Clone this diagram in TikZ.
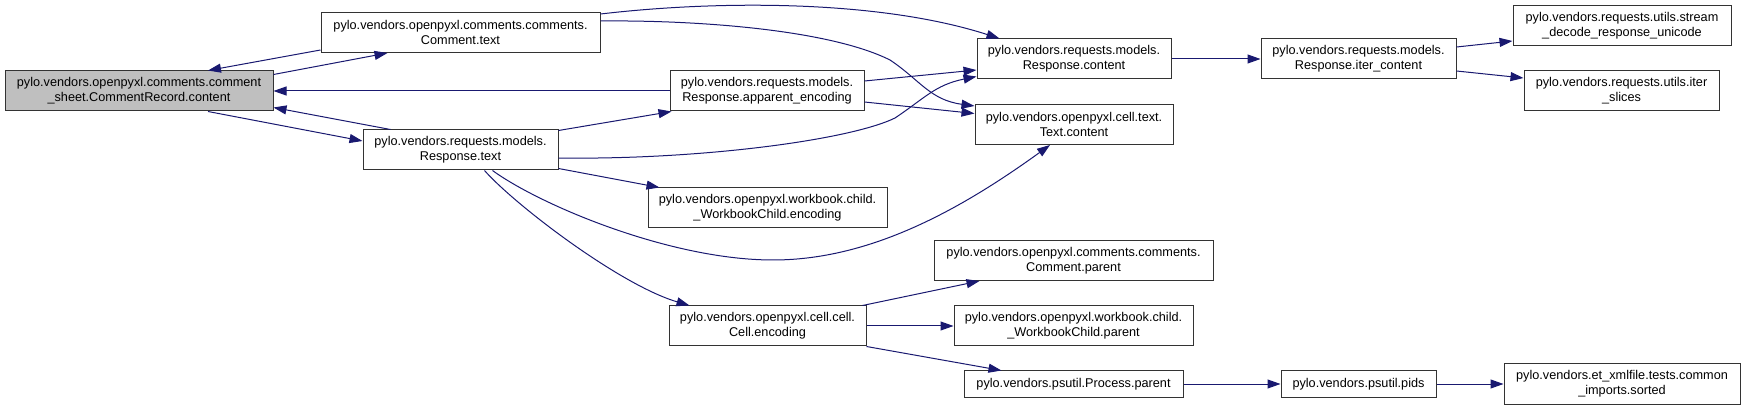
\documentclass[tikz,border=0pt]{standalone}
\usepackage{fontspec}
\setmainfont{Liberation Sans}
\usepackage{tikz}
\usetikzlibrary{arrows.meta}
\definecolor{midnightblue}{HTML}{191970}
\definecolor{grey75}{HTML}{BFBFBF}
\begin{document}
\begin{tikzpicture}[
  x=1pt,y=-1pt,
  box/.style={rectangle,draw=black!80,line width=1pt,fill=white,align=center,
              inner sep=0pt,minimum width=#1pt,minimum height=40pt,
              font=\fontsize{12.7}{15}\selectfont},
  edge/.style={-{Triangle[length=13pt,width=9pt]},draw=midnightblue,line width=1pt}]
\useasboundingbox (0,0) rectangle (1745,411);
\node[box=268,fill=grey75] (root) at (139,91) {pylo.vendors.openpyxl.comments.comment\\\_sheet.CommentRecord.content};
\node[box=279] (cmtText) at (460.5,32.5) {pylo.vendors.openpyxl.comments.comments.\\Comment.text};
\node[box=195] (respText) at (460.5,150) {pylo.vendors.requests.models.\\Response.text};
\node[box=194] (apparent) at (767,91) {pylo.vendors.requests.models.\\Response.apparent\_encoding};
\node[box=239] (wbcEnc) at (767.5,208) {pylo.vendors.openpyxl.workbook.child.\\\_WorkbookChild.encoding};
\node[box=197] (cellEnc) at (767.5,326) {pylo.vendors.openpyxl.cell.cell.\\Cell.encoding};
\node[box=194] (respContent) at (1074,59) {pylo.vendors.requests.models.\\Response.content};
\node[box=198] (textContent) at (1074,124.5) {pylo.vendors.openpyxl.cell.text.\\Text.content};
\node[box=279] (cmtParent) at (1073.5,260.5) {pylo.vendors.openpyxl.comments.comments.\\Comment.parent};
\node[box=239] (wbcParent) at (1073.5,326) {pylo.vendors.openpyxl.workbook.child.\\\_WorkbookChild.parent};
\node[box=219,minimum height=26pt] (procParent) at (1073.5,384) {pylo.vendors.psutil.Process.parent};
\node[box=195] (iterContent) at (1358.5,59) {pylo.vendors.requests.models.\\Response.iter\_content};
\node[box=155,minimum height=26pt] (pids) at (1358.5,384) {pylo.vendors.psutil.pids};
\node[box=218] (stream) at (1622,26) {pylo.vendors.requests.utils.stream\\\_decode\_response\_unicode};
\node[box=195] (iterSlices) at (1621.5,91) {pylo.vendors.requests.utils.iter\\\_slices};
\node[box=236] (sorted) at (1622,384) {pylo.vendors.et\_xmlfile.tests.common\\\_imports.sorted};
\draw[edge] ([yshift=-4pt]root.north east) -- ([xshift=67pt]cmtText.south west);
\draw[edge] ([yshift=3pt]cmtText.south west) -- ([xshift=69pt]root.north);
\draw[edge] (apparent.west) -- (root.east);
\draw[edge] ([xshift=69pt]root.south) -- ([yshift=9pt]respText.west);
\draw[edge] ([xshift=-70pt]respText.north) -- ([yshift=4pt]root.south east);
\draw[edge] ([yshift=-1pt]respText.north east) -- ([xshift=2pt]apparent.south west);
\draw[edge] ([yshift=2pt]respText.south east) -- ([xshift=12pt]wbcEnc.north west);
\draw[edge] ([yshift=-8pt]respText.east) .. controls (700,160) and (850,140) .. (895,118)
  .. controls (925,98) and (935,85) .. ([yshift=3pt]respContent.south west);
\draw[edge] ([xshift=32pt]respText.south) .. controls (540,205) and (670,260) .. (773,260)
  .. controls (870,260) and (960,210) .. ([xshift=-24pt]textContent.south);
\draw[edge] ([xshift=24pt]respText.south) .. controls (515,205) and (620,285) .. ([xshift=21pt]cellEnc.north west);
\draw[edge] ([yshift=-2pt]cmtText.north east) .. controls (720,0) and (880,0) .. ([xshift=23pt]respContent.north west);
\draw[edge] ([yshift=-9pt]cmtText.north east) .. controls (700,20) and (830,30) .. (890,60)
  .. controls (920,80) and (930,100) .. ([yshift=-2pt]textContent.north west);
\draw[edge] ([yshift=10pt]apparent.east) -- ([yshift=-11pt]respContent.west);
\draw[edge] ([yshift=-11pt]apparent.east) -- ([yshift=11pt]textContent.west);
\draw[edge] (respContent.east) -- (iterContent.west);
\draw[edge] ([yshift=12pt]iterContent.east) -- ([yshift=-15pt]stream.west);
\draw[edge] ([yshift=-12pt]iterContent.east) -- ([yshift=13pt]iterSlices.west);
\draw[edge] ([xshift=-4pt]cellEnc.north east) -- ([xshift=46pt]cmtParent.south west);
\draw[edge] (cellEnc.east) -- (wbcParent.west);
\draw[edge] (cellEnc.south east) -- ([xshift=38pt]procParent.north west);
\draw[edge] (procParent.east) -- (pids.west);
\draw[edge] (pids.east) -- (sorted.west);
\end{tikzpicture}
\end{document}
